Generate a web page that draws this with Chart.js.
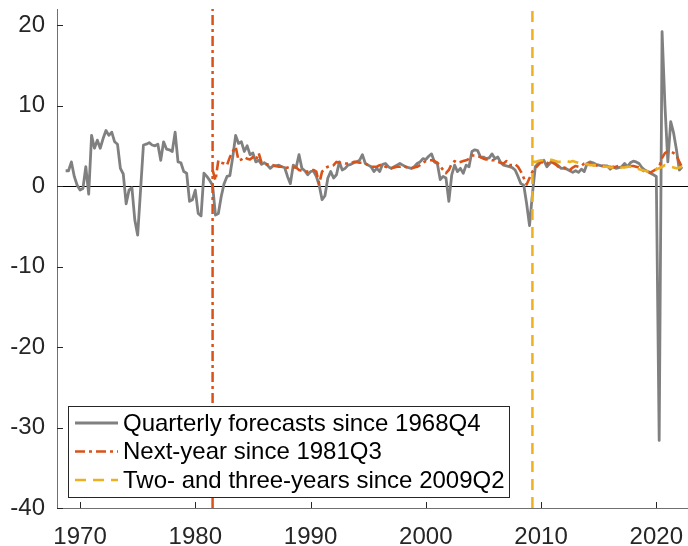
<!DOCTYPE html>
<html>
<head>
<meta charset="utf-8">
<script src="https://cdn.jsdelivr.net/npm/chart.js@4"></script>
<style>
  html, body { margin: 0; padding: 0; background: #fff; }
  #wrap { width: 688px; height: 546px; }
</style>
</head>
<body>
<div id="wrap"><canvas id="forecastChart" width="688" height="546"></canvas></div>
<script>
// Quarterly series start dates (year + (quarter - 1) / 4)
const QUARTERLY_START = 1968.75;
const NEXT_YEAR_START = 1981.5;
const TWO_THREE_START = 2009.25;

// Quarterly forecasts, 1968Q4 onwards
const quarterly = [
  1.9,
  1.9, 3.0, 1.2, 0.1,
  -0.5, -0.3, 2.4, -1.0,
  6.3, 4.7, 5.7, 4.7,
  5.9, 6.9, 6.3, 6.7,
  5.5, 5.2, 2.2, 1.5,
  -2.2, -0.5, -0.2, -4.2,
  -6.1, -0.5, 5.1, 5.2,
  5.4, 5.1, 5.0, 5.2,
  3.2, 5.5, 4.6, 4.5,
  4.3, 6.7, 3.0, 2.9,
  1.8, 1.6, -1.9, -1.7,
  -0.5, -3.4, -3.7, 1.6,
  1.2, 0.7, 0.1, -3.6,
  -3.4, -1.3, 0.3, 1.2,
  1.3, 3.6, 6.3, 5.3,
  5.5, 4.3, 5.0, 3.9,
  4.1, 3.0, 3.2, 2.7,
  2.9, 2.6, 2.2, 2.5,
  2.5, 2.6, 2.4, 2.3,
  1.2, 0.3, 2.6, 2.3,
  3.9, 2.2, 1.9, 1.4,
  1.8, 1.9, 1.2, 0.1,
  -1.7, -1.2, 1.0, 1.8,
  1.0, 1.4, 3.0, 2.0,
  2.2, 2.6, 2.7, 2.9,
  3.0, 3.2, 3.9, 2.8,
  2.6, 2.4, 1.8, 2.2,
  1.8, 2.7, 2.8, 2.4,
  2.2, 2.4, 2.6, 2.8,
  2.6, 2.4, 2.3, 2.2,
  2.4, 2.8, 3.0, 3.4,
  3.3, 3.7, 4.0, 3.0,
  2.8, 0.8, 1.2, 1.0,
  -1.9, 1.4, 2.6, 1.8,
  2.2, 1.6, 2.6, 2.4,
  4.3, 4.5, 4.4, 3.6,
  3.6, 3.4, 3.5, 4.0,
  3.4, 3.6, 2.9, 2.6,
  2.5, 2.4, 2.3, 2.0,
  1.2, 0.3, 0.1, -2.2,
  -4.9, -1.0, 2.4, 2.8,
  3.0, 3.2, 2.4, 2.8,
  3.2, 2.8, 2.5, 2.2,
  2.2, 2.1, 1.9, 1.7,
  1.9, 1.7, 2.1, 1.8,
  2.8, 3.0, 2.9, 2.7,
  2.6, 2.5, 2.5, 2.5,
  2.1, 2.4, 2.2, 2.3,
  2.4, 2.8, 2.4, 2.9,
  3.1, 3.0, 2.8, 2.3,
  2.0, 1.8, 1.6, 1.4,
  1.2, -31.6, 19.2, 10.0,
  3.0, 8.0, 6.6, 4.5,
  2.0, 2.4
];

// Next-year forecasts, 1981Q3 onwards
const nextYear = [
  2.0, 0.7,
  3.2, 2.9, 2.8, 2.6,
  3.6, 4.3, 4.9, 3.2,
  3.3, 3.6, 3.4, 3.3,
  3.6, 3.2, 4.1, 2.9,
  2.8, 2.7, 2.6, 2.6,
  2.5, 2.4, 2.4, 2.2,
  2.3, 2.2, 2.3, 2.3,
  2.0, 1.9, 1.8, 1.8,
  1.9, 2.0, 1.8, 0.3,
  1.8, 2.2, 2.4, 2.5,
  2.6, 3.0, 2.9, 2.9,
  2.8, 2.8, 2.8, 3.0,
  3.0, 2.9, 2.9, 2.8,
  2.6, 2.4, 2.4, 2.4,
  2.6, 2.7, 2.4, 2.3,
  2.2, 2.3, 2.4, 2.4,
  2.5, 2.4, 2.2, 2.2,
  2.3, 2.4, 2.6, 2.9,
  3.1, 3.2, 3.2, 3.1,
  2.9, 2.5, 2.0, 1.6,
  2.0, 2.8, 3.1, 2.9,
  3.0, 3.1, 3.2, 3.4,
  3.8, 3.8, 3.7, 3.6,
  3.4, 3.3, 3.3, 3.2,
  3.2, 3.0, 2.9, 2.8,
  3.1, 2.6, 2.6, 2.7,
  2.4, 1.8, 1.0, 0.2,
  1.0, 1.8, 2.2, 2.6,
  3.0, 2.9, 2.7, 3.2,
  2.9, 2.7, 2.4, 2.3,
  2.3, 2.2, 2.0, 2.3,
  2.5, 2.4, 2.5, 2.8,
  2.9, 2.8, 2.6, 2.6,
  2.5, 2.5, 2.5, 2.4,
  2.4, 2.3, 2.4, 2.5,
  2.4, 2.4, 2.5, 2.5,
  2.5, 2.4, 2.3, 2.0,
  1.8, 1.8, 1.7, 1.9,
  2.1, 2.4, 3.5, 4.1,
  4.3, 4.3, 4.1, 3.8,
  3.0, 2.3
];

// Two- and three-year forecasts, 2009Q2 onwards
const twoThree = [
  3.0, 3.0, 3.1,
  3.2, 3.2, 3.3, 3.3,
  3.2, 3.1, 3.0, 3.0,
  3.0, 3.1, 3.0, 3.1,
  3.0, 2.9, 2.8, 2.8,
  2.7, 2.6, 2.6, 2.6,
  2.5, 2.5, 2.4, 2.4,
  2.3, 2.3, 2.3, 2.2,
  2.3, 2.3, 2.4, 2.4,
  2.3, 2.2, 2.1, 2.0,
  1.9, 1.8, 1.9, 2.0,
  2.1, 2.2, 2.4, 2.6,
  2.5, 2.4, 2.3, 2.2,
  2.3, 2.4
];

const xTicks = [1970, 1980, 1990, 2000, 2010, 2020];
const yTicks = [-40, -30, -20, -10, 0, 10, 20];
const legendLabels = [
  'Quarterly forecasts since 1968Q4',
  'Next-year since 1981Q3',
  'Two- and three-years since 2009Q2'
];

const GRAY = '#808080';
const ORANGE = '#D95319';
const YELLOW = '#EDB120';
const DASH_DOT = [10, 4, 3, 4];
const DASHED = [11, 7];
const FONT = '"Liberation Sans", Arial, Helvetica, sans-serif';

const X_MIN = 1968, X_MAX = 2022.75;
const Y_MIN = -40, Y_MAX = 22;

const toPoints = (start, vals) => vals.map((v, i) => ({ x: start + i / 4, y: v }));
const vline = x => [{ x, y: Y_MIN }, { x, y: Y_MAX }];

const series = (data, color, width, dash, order) => ({
  data, borderColor: color, borderWidth: width, borderDash: dash,
  pointRadius: 0, tension: 0, fill: false, order,
  borderCapStyle: 'butt', borderJoinStyle: 'round'
});

// inward tick marks and the boxed legend
const axisDecor = {
  id: 'axisDecor',
  afterDraw(chart) {
    const { ctx, chartArea: a, scales: { x, y } } = chart;
    ctx.save();
    ctx.strokeStyle = '#262626';
    ctx.lineWidth = 1;
    ctx.beginPath();
    xTicks.forEach(t => {
      const px = Math.round(x.getPixelForValue(t)) + 0.5;
      ctx.moveTo(px, a.bottom); ctx.lineTo(px, a.bottom - 6);
    });
    yTicks.forEach(t => {
      const py = Math.round(y.getPixelForValue(t)) + 0.5;
      ctx.moveTo(a.left, py); ctx.lineTo(a.left + 6, py);
    });
    ctx.stroke();

    // legend
    const bx = 68.5, by = 406.5, bw = 441, bh = 91;
    ctx.fillStyle = '#fff';
    ctx.fillRect(bx, by, bw, bh);
    ctx.strokeStyle = '#262626';
    ctx.strokeRect(bx, by, bw, bh);
    ctx.font = '24px ' + FONT;
    ctx.textBaseline = 'middle';
    ctx.textAlign = 'left';
    legendLabels.forEach((text, i) => {
      const ds = chart.data.datasets[i];
      const ly = 423 + i * 28.5;
      ctx.strokeStyle = ds.borderColor;
      ctx.lineWidth = ds.borderWidth;
      ctx.setLineDash(ds.borderDash || []);
      ctx.beginPath();
      ctx.moveTo(75, ly); ctx.lineTo(118, ly);
      ctx.stroke();
      ctx.setLineDash([]);
      ctx.fillStyle = '#000';
      ctx.fillText(text, 123, ly + 1);
    });
    ctx.restore();
  }
};

new Chart(document.getElementById('forecastChart'), {
  type: 'line',
  data: {
    datasets: [
      series(toPoints(QUARTERLY_START, quarterly), GRAY, 2.8, [], 5),
      series(toPoints(NEXT_YEAR_START, nextYear), ORANGE, 2.6, DASH_DOT, 4),
      series(toPoints(TWO_THREE_START, twoThree), YELLOW, 2.6, DASHED, 3),
      series(vline(NEXT_YEAR_START), ORANGE, 2.5, DASH_DOT, 2),
      series(vline(TWO_THREE_START), YELLOW, 2.5, DASHED, 1)
    ]
  },
  options: {
    responsive: false,
    animation: false,
    events: [],
    layout: { padding: { top: 9, right: 0, left: 0, bottom: 0 } },
    plugins: { legend: { display: false }, tooltip: { enabled: false } },
    scales: {
      x: {
        type: 'linear', min: X_MIN, max: X_MAX,
        afterBuildTicks: s => { s.ticks = xTicks.map(value => ({ value })); },
        afterFit: s => { s.height = 38; s.paddingLeft = 0; s.paddingRight = 0; },
        grid: { display: false },
        border: { display: true, color: '#707070', width: 1 },
        ticks: { padding: 7, color: '#262626', font: { family: FONT, size: 24 }, maxRotation: 0, callback: v => String(v) }
      },
      y: {
        min: Y_MIN, max: Y_MAX,
        afterBuildTicks: s => { s.ticks = yTicks.map(value => ({ value })); },
        afterFit: s => { s.width = 57; s.paddingTop = 0; s.paddingBottom = 0; },
        grid: {
          drawTicks: false,
          color: c => (c.tick && c.tick.value === 0 ? '#000' : 'rgba(0,0,0,0)'),
          lineWidth: 1
        },
        border: { display: true, color: '#707070', width: 1 },
        ticks: { padding: 12, color: '#262626', font: { family: FONT, size: 24 }, callback: v => String(v) }
      }
    }
  },
  plugins: [axisDecor]
});
</script>
</body>
</html>
